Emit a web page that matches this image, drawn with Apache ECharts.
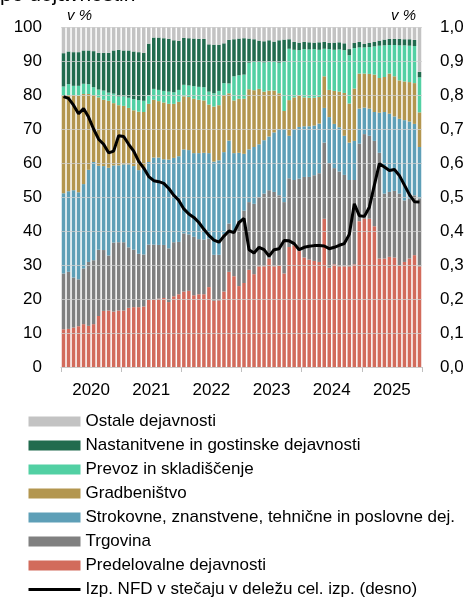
<!DOCTYPE html>
<html>
<head>
<meta charset="utf-8">
<script src="https://cdn.jsdelivr.net/npm/echarts@6/dist/echarts.min.js"></script>
<style>
  html, body { margin: 0; padding: 0; background: #fff; }
  #chart { width: 467px; height: 599px; }
</style>
</head>
<body>
<div id="chart"></div>
<script>
// leta na osi x, po 12 mesecev
var years = ['2020', '2021', '2022', '2023', '2024', '2025'];
var months = [];
years.forEach(function (y) {
  for (var m = 1; m <= 12; m++) {
    months.push(y + '-' + (m < 10 ? '0' + m : m));
  }
});

var yLeftTicks = [0, 10, 20, 30, 40, 50, 60, 70, 80, 90, 100];
var yRightTicks = [0, 0.1, 0.2, 0.3, 0.4, 0.5, 0.6, 0.7, 0.8, 0.9, 1.0];

// deleži v %
var predelovalne = [
  11.1, 11.2, 11.6, 12.0, 12.6, 12.1, 12.6, 15.0, 16.5, 16.6, 16.3, 16.6,
  16.6, 17.4, 17.6, 17.6, 17.8, 19.7, 19.9, 20.1, 20.3, 19.1, 20.8, 21.4,
  22.2, 22.4, 21.1, 21.4, 21.4, 23.5, 19.5, 19.6, 22.2, 28.0, 26.7, 23.8,
  24.7, 28.6, 27.3, 29.6, 29.6, 31.9, 29.6, 29.8, 27.5, 35.3, 35.8, 34.1,
  32.2, 31.6, 31.2, 30.9, 43.6, 29.2, 30.2, 29.6, 29.6, 29.6, 30.2, 42.9,
  43.6, 43.6, 41.4, 31.9, 31.9, 32.4, 32.2, 29.9, 30.9, 31.9, 32.9, 29.6
];
var trgovina = [
  16.4, 16.8, 14.7, 13.8, 16.4, 18.8, 18.8, 19.5, 17.9, 16.2, 20.3, 20.1,
  20.1, 17.8, 16.9, 15.7, 15.3, 16.3, 16.1, 15.8, 15.6, 15.8, 15.9, 15.4,
  17.1, 16.6, 17.2, 16.2, 16.1, 14.3, 13.5, 13.4, 16.8, 14.2, 13.3, 19.2,
  21.3, 19.9, 20.7, 20.4, 21.4, 20.1, 21.9, 20.7, 21.0, 20.2, 19.2, 21.3,
  23.7, 24.3, 25.2, 26.1, 22.4, 30.8, 28.3, 27.9, 26.9, 25.4, 24.8, 22.8,
  24.9, 24.4, 25.1, 31.1, 19.1, 19.1, 19.6, 21.1, 18.1, 17.6, 17.6, 20.0
];
var strokovne = [
  23.6, 23.7, 25.7, 25.6, 24.8, 27.1, 28.9, 24.7, 24.7, 25.8, 22.7, 22.6,
  22.9, 24.4, 24.6, 24.6, 25.2, 24.3, 25.6, 25.7, 25.2, 26.1, 24.8, 25.2,
  24.7, 24.8, 24.6, 25.3, 25.5, 25.1, 27.4, 27.8, 24.2, 24.4, 22.9, 20.0,
  16.7, 15.5, 16.7, 15.5, 15.7, 15.8, 17.5, 19.5, 21.5, 12.5, 15.0, 15.2,
  14.9, 14.9, 14.6, 14.6, 10.2, 13.5, 13.0, 13.0, 11.5, 11.0, 11.5, 10.3,
  7.8, 8.0, 8.5, 11.8, 24.0, 23.0, 21.9, 22.0, 23.6, 22.7, 21.0, 15.1
];
var gradbenistvo = [
  28.7, 28.3, 28.0, 28.4, 26.5, 22.3, 19.7, 20.1, 19.5, 19.7, 18.3, 17.7,
  17.2, 16.6, 16.4, 17.2, 16.7, 17.1, 17.0, 16.6, 16.7, 16.4, 15.9, 16.0,
  15.6, 15.6, 16.0, 15.7, 15.4, 14.3, 16.2, 16.2, 16.8, 13.9, 15.5, 15.9,
  16.2, 17.7, 16.7, 16.3, 14.3, 13.5, 12.3, 10.5, 5.3, 10.5, 9.3, 9.2,
  8.5, 8.4, 8.2, 7.8, 9.3, 8.0, 9.7, 10.5, 12.6, 11.5, 15.4, 10.3,
  10.0, 10.2, 11.0, 10.2, 10.3, 11.8, 11.8, 11.3, 11.4, 11.6, 12.0, 10.2
];
var prevoz = [
  2.7, 3.2, 2.7, 2.9, 3.0, 2.9, 2.3, 2.3, 2.7, 2.4, 2.8, 2.6,
  2.8, 3.0, 3.3, 3.4, 3.3, 2.6, 3.2, 3.3, 3.4, 3.6, 3.4, 3.5,
  3.4, 3.4, 3.7, 3.8, 3.9, 3.8, 3.9, 4.2, 3.5, 2.9, 7.1, 6.9,
  7.1, 7.8, 8.3, 7.9, 8.6, 8.5, 8.4, 9.0, 14.5, 15.1, 14.0, 13.4,
  14.2, 14.2, 14.3, 13.9, 8.1, 12.0, 12.1, 12.4, 12.6, 14.2, 11.9, 7.7,
  7.7, 7.9, 8.3, 9.5, 9.3, 8.4, 9.2, 10.3, 10.6, 10.7, 10.9, 10.3
];
var nastanitvene = [
  9.8, 9.6, 9.9, 9.9, 9.8, 9.9, 10.6, 10.8, 11.1, 11.7, 12.7, 13.7,
  13.5, 13.9, 14.0, 14.1, 14.1, 15.1, 15.1, 15.4, 15.5, 15.5, 15.3, 14.4,
  13.8, 13.9, 14.0, 14.1, 14.2, 13.9, 14.3, 13.6, 11.7, 12.8, 10.9, 10.8,
  10.7, 7.1, 6.7, 6.3, 6.2, 6.3, 6.0, 6.6, 6.5, 2.8, 2.3, 2.2,
  2.1, 2.1, 1.9, 2.2, 2.0, 1.8, 2.1, 2.1, 2.0, 1.8, 1.5, 1.6,
  1.0, 1.2, 1.3, 1.5, 1.7, 1.8, 1.8, 1.9, 1.8, 1.9, 1.8, 1.6
];
var ostale = [
  7.7, 7.2, 7.4, 7.4, 6.9, 6.9, 7.1, 7.6, 7.6, 7.6, 6.9, 6.7,
  6.9, 6.9, 7.2, 7.4, 7.6, 4.9, 3.1, 3.1, 3.3, 3.5, 3.9, 4.1,
  3.2, 3.3, 3.4, 3.5, 3.5, 5.1, 5.2, 5.2, 4.8, 3.8, 3.6, 3.4,
  3.3, 3.4, 3.6, 4.0, 4.2, 3.9, 4.3, 3.9, 3.7, 3.6, 4.4, 4.6,
  4.4, 4.5, 4.6, 4.5, 4.4, 4.7, 4.6, 4.5, 4.8, 6.5, 4.7, 4.4,
  5.0, 4.7, 4.4, 4.0, 3.7, 3.5, 3.5, 3.5, 3.6, 3.6, 3.8, 13.2
];
// desna os
var stecaj = [
  0.795, 0.79, 0.77, 0.745, 0.76, 0.735, 0.70, 0.67, 0.655, 0.63, 0.635, 0.68,
  0.678, 0.655, 0.635, 0.605, 0.585, 0.56, 0.548, 0.545, 0.54, 0.525, 0.505, 0.49,
  0.465, 0.45, 0.44, 0.425, 0.405, 0.387, 0.373, 0.367, 0.385, 0.40, 0.395, 0.425,
  0.437, 0.345, 0.335, 0.352, 0.345, 0.326, 0.345, 0.348, 0.372, 0.371, 0.363, 0.345,
  0.352, 0.355, 0.357, 0.357, 0.356, 0.348, 0.352, 0.358, 0.363, 0.39, 0.48, 0.445,
  0.443, 0.47, 0.535, 0.598, 0.588, 0.578, 0.581, 0.563, 0.535, 0.507, 0.486, 0.485
];

var FONT = '"Liberation Sans", Arial, sans-serif';

function bar(name, data, color) {
  return {
    name: name,
    type: 'bar',
    stack: 'delez',
    xAxisIndex: 0,
    yAxisIndex: 0,
    barCategoryGap: '30%',
    data: data,
    itemStyle: {color: color}
  };
}

var chart = echarts.init(document.getElementById('chart'));
chart.setOption({
  animation: false,
  textStyle: {fontFamily: FONT},
  grid: {left: 61, right: 45, top: 27, bottom: 232},
  graphic: [
    {type: 'text', left: 0, top: -15, style: {text: 'po dejavnostih', font: '21px ' + FONT, fill: '#000'}},
    {type: 'text', left: 67, top: 8, style: {text: 'v %', font: 'italic 15px ' + FONT, fill: '#000'}},
    {type: 'text', left: 391, top: 8, style: {text: 'v %', font: 'italic 15px ' + FONT, fill: '#000'}}
  ],
  legend: {
    orient: 'vertical',
    left: 27,
    top: 413,
    padding: 0,
    itemWidth: 52,
    itemHeight: 10,
    itemGap: 7,
    selectedMode: false,
    textStyle: {fontSize: 17, color: '#000', fontFamily: FONT, lineHeight: 17},
    data: [
      {name: 'Ostale dejavnosti', icon: 'rect'},
      {name: 'Nastanitvene in gostinske dejavnosti', icon: 'rect'},
      {name: 'Prevoz in skladiščenje', icon: 'rect'},
      {name: 'Gradbeništvo', icon: 'rect'},
      {name: 'Strokovne, znanstvene, tehnične in poslovne dej.', icon: 'rect'},
      {name: 'Trgovina', icon: 'rect'},
      {name: 'Predelovalne dejavnosti', icon: 'rect'},
      {
        name: 'Izp. NFD v stečaju v deležu cel. izp. (desno)',
        itemStyle: {opacity: 0},
        lineStyle: {color: '#000', width: 3}
      }
    ]
  },
  xAxis: [
    {
      type: 'category',
      data: months,
      axisLine: {show: false},
      axisTick: {show: false},
      axisLabel: {show: false}
    },
    {
      type: 'category',
      data: years,
      position: 'bottom',
      axisLine: {lineStyle: {color: '#bfbfbf', width: 1}},
      axisTick: {show: true, length: 5, lineStyle: {color: '#bfbfbf'}},
      axisLabel: {fontSize: 17, color: '#000', margin: 15}
    }
  ],
  yAxis: [
    {
      type: 'value',
      z: 3,
      min: yLeftTicks[0],
      max: yLeftTicks[yLeftTicks.length - 1],
      interval: 10,
      axisLine: {show: false},
      axisTick: {show: false},
      axisLabel: {fontSize: 17, color: '#000', margin: 19},
      splitLine: {lineStyle: {color: '#cfcfcf', opacity: 0.75}}
    },
    {
      type: 'value',
      position: 'right',
      min: yRightTicks[0],
      max: yRightTicks[yRightTicks.length - 1],
      interval: 0.1,
      axisLine: {show: false},
      axisTick: {show: false},
      splitLine: {show: false},
      axisLabel: {
        fontSize: 17, color: '#000', margin: 18,
        formatter: function (v) { return v.toFixed(1).replace('.', ','); }
      }
    }
  ],
  series: [
    bar('Predelovalne dejavnosti', predelovalne, '#d26b5c'),
    bar('Trgovina', trgovina, '#808080'),
    bar('Strokovne, znanstvene, tehnične in poslovne dej.', strokovne, '#5e9fb7'),
    bar('Gradbeništvo', gradbenistvo, '#b3964f'),
    bar('Prevoz in skladiščenje', prevoz, '#52d0a3'),
    bar('Nastanitvene in gostinske dejavnosti', nastanitvene, '#216b4e'),
    bar('Ostale dejavnosti', ostale, '#c3c3c3'),
    {
      name: 'Izp. NFD v stečaju v deležu cel. izp. (desno)',
      type: 'line',
      xAxisIndex: 0,
      yAxisIndex: 1,
      data: stecaj,
      symbol: 'none',
      lineStyle: {color: '#000', width: 3},
      itemStyle: {color: '#000'},
      z: 5
    }
  ]
});
</script>
</body>
</html>
